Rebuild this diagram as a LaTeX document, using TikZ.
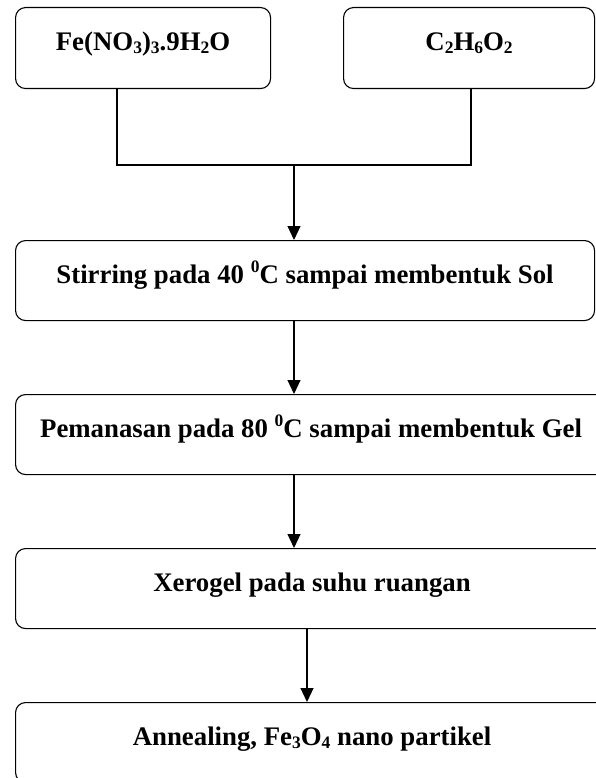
\documentclass[tikz,border=0pt]{standalone}
\usepackage{fontspec}
\setmainfont{Liberation Serif}
\usetikzlibrary{arrows.meta}
\newcommand\chs[1]{\raisebox{-0.10em}{\fontsize{17.5}{17.5}\selectfont #1}}
\newcommand\chp[1]{\raisebox{0.42em}{\fontsize{17.5}{17.5}\selectfont #1}}
\tikzset{
  box/.style={draw, line width=1.1pt, rounded corners=10pt, inner sep=0pt,
    anchor=north west, text height=43pt, text depth=37pt,
    font=\bfseries\fontsize{26.8}{30}\selectfont},
  link/.style={line width=1.1pt},
  arr/.style={line width=1.1pt, -{Triangle[width=13pt,length=14pt]}}
}
\begin{document}
\begin{tikzpicture}[x=1pt,y=1pt]
\useasboundingbox (0,0) rectangle (595,-778);
\node[box, minimum width=255pt, text depth=38pt] (b1) at (15,-7) {Fe(NO\chs{3})\chs{3}.9H\chs{2}O};
\node[box, minimum width=251pt, text depth=38pt] (b2) at (343,-7) {C\chs{2}H\chs{6}O\chs{2}};
\node[box, minimum width=579pt] (b3) at (15,-240) {Stirring pada 40 \chp{0}C sampai membentuk Sol};
\node[box, minimum width=591pt] (b4) at (15,-394) {Pemanasan pada 80 \chp{0}C sampai membentuk Gel};
\node[box, minimum width=593pt] (b5) at (15,-548) {Xerogel pada suhu ruangan};
\node[box, minimum width=593pt] (b6) at (15,-702) {Annealing, Fe\chs{3}O\chs{4} nano partikel};
\coordinate (k1) at (117,-165);
\coordinate (k2) at (471,-165);
\coordinate (j) at (294,-165);
\coordinate (c1) at (294,0);
\coordinate (c2) at (307,0);
\draw[link] (b1.south -| k1) -- (k1) -- (k2) -- (b2.south -| k2);
\draw[arr] (j) -- (b3.north -| j);
\draw[arr] (b3.south -| c1) -- (b4.north -| c1);
\draw[arr] (b4.south -| c1) -- (b5.north -| c1);
\draw[arr] (b5.south -| c2) -- (b6.north -| c2);
\end{tikzpicture}
\end{document}
